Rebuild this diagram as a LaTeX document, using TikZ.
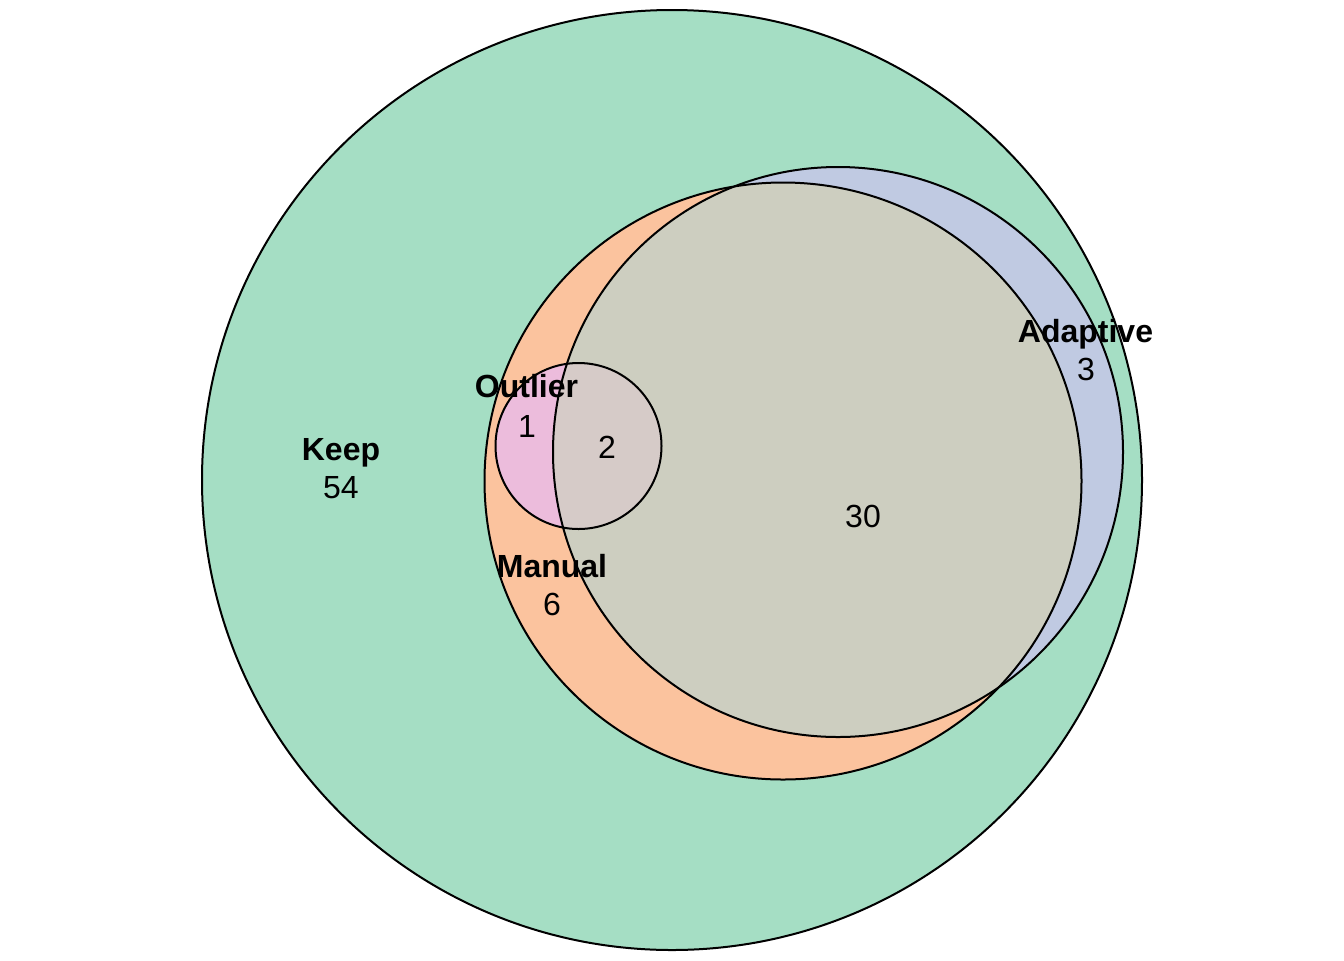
\documentclass[tikz,border=0pt]{standalone}
\usepackage{fontspec}
\setmainfont{Liberation Sans}
\definecolor{keepc}{RGB}{165,222,196}
\definecolor{manc}{RGB}{251,195,158}
\definecolor{adac}{RGB}{192,202,226}
\definecolor{mixc}{RGB}{205,206,192}
\definecolor{outc}{RGB}{236,188,220}
\definecolor{outmixc}{RGB}{214,203,200}
\tikzset{
  setlabel/.style={anchor=base, font=\fontsize{16}{19}\selectfont\bfseries, inner sep=0pt},
  countlabel/.style={anchor=base, font=\fontsize{16}{19}\selectfont, inner sep=0pt},
  outline/.style={draw=black, line width=1pt}
}
\begin{document}
\begin{tikzpicture}[x=0.5pt,y=-0.5pt]
\useasboundingbox (0,0) rectangle (1344,960);
% fills
\fill[keepc] (672,480) circle[radius=470];
\fill[manc] (783,481) circle[radius=298.5];
\fill[adac] (838,452) circle[radius=285];
\begin{scope}
  \clip (783,481) circle[radius=298.5];
  \fill[mixc] (838,452) circle[radius=285];
\end{scope}
\fill[outc] (578.5,446) circle[radius=83];
\begin{scope}
  \clip (838,452) circle[radius=285];
  \fill[outmixc] (578.5,446) circle[radius=83];
\end{scope}
% outlines
\draw[outline] (672,480) circle[radius=470];
\draw[outline] (783,481) circle[radius=298.5];
\draw[outline] (838,452) circle[radius=285];
\draw[outline] (578.5,446) circle[radius=83];
% labels
\node[setlabel] (keep) at (341,460) {Keep};
\node[countlabel] (keepn) at (341,498) {54};
\node[setlabel] (outlier) at (526.5,397) {Outlier};
\node[countlabel] (outn) at (527,437) {1};
\node[countlabel] (outmixn) at (607,458) {2};
\node[setlabel] (adaptive) at (1085.5,342) {Adaptive};
\node[countlabel] (adan) at (1086,380) {3};
\node[setlabel] (manual) at (552,577) {Manual};
\node[countlabel] (mann) at (552,615) {6};
\node[countlabel] (mixn) at (863,527) {30};
\end{tikzpicture}
\end{document}
